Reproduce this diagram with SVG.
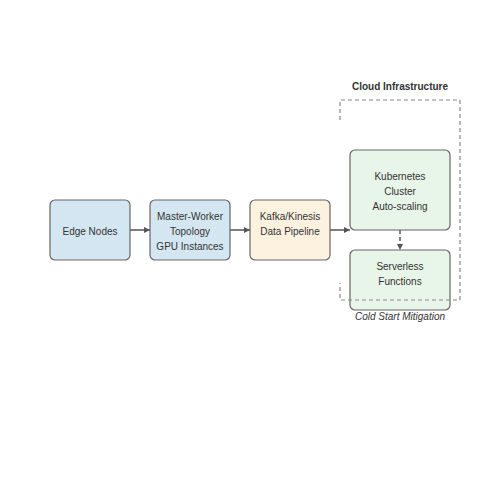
<svg xmlns="http://www.w3.org/2000/svg" width="500" height="500" viewBox="0 0 500 500">
<defs>
<style>
.node{stroke:#666;stroke-width:1.2}
.blue{fill:#d4e6f1}
.orange{fill:#fdf2e0}
.green{fill:#e8f5e9}
.t{font-family:"Liberation Sans",Arial,sans-serif;font-size:10px;fill:#333;text-anchor:middle}
.conn{stroke:#555;stroke-width:1.5;fill:none}
.dash{stroke-dasharray:4,3}
</style>
<marker id="arr" viewBox="0 0 10 10" refX="10" refY="5" markerWidth="8" markerHeight="6" markerUnits="userSpaceOnUse" orient="auto">
<path d="M0,0 L10,5 L0,10 z" fill="#555"/>
</marker>
</defs>
<rect width="500" height="500" fill="#fff"/>
<text class="t" x="400" y="90" style="font-weight:bold">Cloud Infrastructure</text>
<g id="connectors">
<line class="conn" x1="130" y1="230" x2="150" y2="230" marker-end="url(#arr)"/>
<line class="conn" x1="230" y1="230" x2="250" y2="230" marker-end="url(#arr)"/>
<line class="conn" x1="330" y1="230" x2="350" y2="230" marker-end="url(#arr)"/>
<line class="conn dash" x1="400" y1="230" x2="400" y2="250" marker-end="url(#arr)"/>
</g>
<g id="edge-nodes">
<rect class="node blue" x="50" y="200" width="80" height="60" rx="5"/>
<text class="t" x="90" y="234.5">Edge Nodes</text>
</g>
<g id="master-worker">
<rect class="node blue" x="150" y="200" width="80" height="60" rx="5"/>
<text class="t" x="190" y="219.5">Master-Worker</text>
<text class="t" x="190" y="234.5">Topology</text>
<text class="t" x="190" y="249.5">GPU Instances</text>
</g>
<g id="kafka">
<rect class="node orange" x="250" y="200" width="80" height="60" rx="5"/>
<text class="t" x="290" y="219.5">Kafka/Kinesis</text>
<text class="t" x="290" y="234.5">Data Pipeline</text>
</g>
<g id="kubernetes">
<rect class="node green" x="350" y="150" width="100" height="80" rx="5"/>
<text class="t" x="400" y="179.5">Kubernetes</text>
<text class="t" x="400" y="194.5">Cluster</text>
<text class="t" x="400" y="209.5">Auto-scaling</text>
</g>
<g id="serverless">
<rect class="node green" x="350" y="250" width="100" height="60" rx="5"/>
<text class="t" x="400" y="269.5">Serverless</text>
<text class="t" x="400" y="284.5">Functions</text>
</g>
<g id="cloud-infrastructure">
<path d="M340,120 L340,100 L460,100 L460,300 L340,300 L340,283" fill="none" stroke="#888" stroke-width="1.2" stroke-dasharray="4,3"/>
</g>
<text class="t" x="400" y="320" style="font-style:italic">Cold Start Mitigation</text>
</svg>
